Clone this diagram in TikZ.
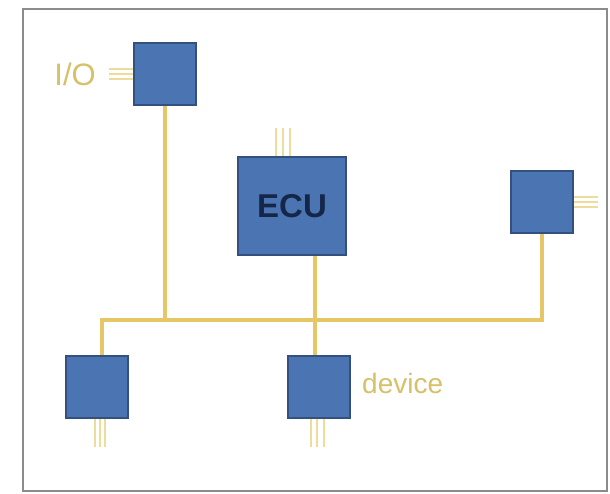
\documentclass[tikz,border=0pt]{standalone}
\usepackage{fontspec}
\setmainfont{Liberation Sans}
\definecolor{boxfill}{HTML}{4A74B2}
\definecolor{boxline}{HTML}{34507E}
\definecolor{busc}{HTML}{E6C666}
\definecolor{stubc}{HTML}{EEDC9A}
\definecolor{labc}{HTML}{D6C068}
\definecolor{ecutext}{HTML}{162648}
\definecolor{framec}{HTML}{8C8C8C}
\begin{document}
\begin{tikzpicture}[x=1pt,y=-1pt,
  ecubox/.style={draw=boxline,fill=boxfill,line width=2pt,minimum width=#1,minimum height=#1,inner sep=0pt},
  bus/.style={draw=busc,line width=4.2pt},
  stub/.style={draw=stubc,line width=2pt},
  lab/.style={text=labc,inner sep=0pt}]
\useasboundingbox (0,0) rectangle (610,493);
\draw[framec,line width=2pt] (23,9) rectangle (607,491);
% boxes
\node[ecubox=62pt] (io) at (165,74) {};
\node[draw=boxline,fill=boxfill,line width=2pt,minimum width=108pt,minimum height=98pt,inner sep=0pt,text=ecutext,font=\fontsize{33}{33}\selectfont\bfseries] (ecu) at (292,206) {ECU};
\node[ecubox=62pt] (rt) at (542,202) {};
\node[ecubox=62pt] (bl) at (97,387) {};
\node[ecubox=62pt] (dev) at (319,387) {};
% labels
\node[lab,font=\fontsize{31}{31}\selectfont,anchor=east] (iolab) at (96,74) {I/O};
\node[lab,font=\fontsize{28}{28}\selectfont,anchor=west] (devlab) at (362,383) {device};
% stubs
\foreach \d in {-5,0,5}{
  \draw[stub] ([yshift=\d]io.west) -- ++(-24,0);
  \draw[stub] ([yshift=\d]rt.east) -- ++(24,0);
  \draw[stub] ([xshift=\d*1.4]ecu.north west) ++(46,0) -- ++(0,-28);
  \draw[stub] ([xshift=\d]bl.south) ++(3,0) -- ++(0,28);
  \draw[stub] ([xshift=\d*1.3]dev.south) ++(-2,0) -- ++(0,28);
}
% bus
\coordinate (jl) at (102,320);
\draw[bus] ([xshift=5pt]bl.north) -- (jl) -- (jl -| rt.south) -- (rt.south);
\draw[bus] (io.south) -- (io.south |- jl);
\draw[bus,line width=3.5pt] (ecu.south -| 315,0) -- (dev.north -| 315,0);
\end{tikzpicture}
\end{document}
